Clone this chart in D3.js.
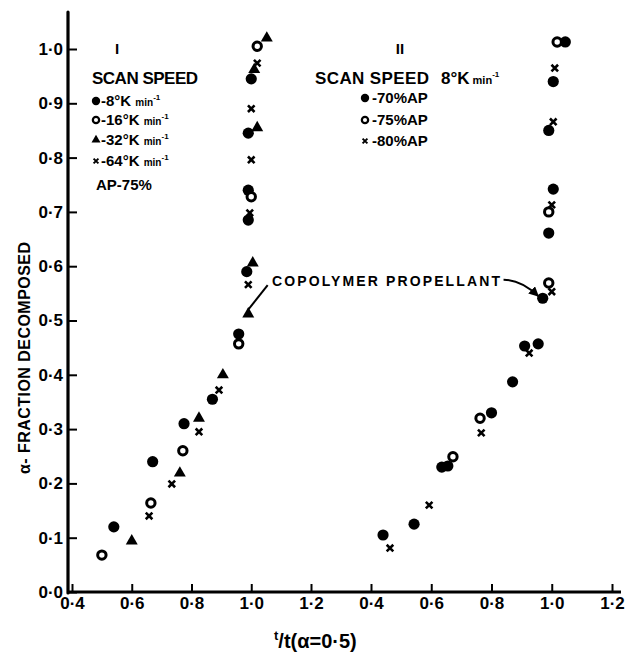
<!DOCTYPE html>
<html>
<head>
<meta charset="utf-8">
<script src="https://cdn.jsdelivr.net/npm/d3@7"></script>
<style>
  body { margin: 0; background: #fff; }
  text { font-family: "Liberation Sans", Arial, sans-serif; font-weight: bold; fill: #000; }
</style>
</head>
<body>
<svg id="chart" width="630" height="660"></svg>
<script>
// ---- data: [t/t(alpha=0.5), alpha] ----
// panel I : AP 75%, different scan speeds
const scan8K  = [[0.54,0.12],[0.67,0.24],[0.775,0.31],[0.87,0.355],[0.958,0.475],[0.985,0.59],[0.99,0.74],[0.99,0.685],[0.99,0.845],[1.0,0.945]];
const scan16K = [[0.50,0.068],[0.664,0.164],[0.771,0.26],[0.958,0.457],[1.0,0.728],[1.02,1.005]];
const scan32K = [[0.60,0.094],[0.761,0.219],[0.825,0.32],[0.905,0.40],[0.99,0.512],[1.005,0.606],[1.02,0.855],[1.01,0.962],[1.052,1.02]];
const scan64K = [[0.658,0.14],[0.734,0.199],[0.825,0.295],[0.892,0.372],[0.99,0.566],[0.995,0.698],[1.0,0.796],[1.0,0.89],[1.02,0.974]];
// panel II : 8 K/min, different AP content
const ap70 = [[0.44,0.105],[0.543,0.125],[0.635,0.23],[0.655,0.232],[0.80,0.33],[0.87,0.387],[0.91,0.453],[0.955,0.457],[0.97,0.541],[0.99,0.661],[1.005,0.742],[0.99,0.85],[1.005,0.94],[1.045,1.013]];
const ap75 = [[0.672,0.249],[0.762,0.32],[0.99,0.569],[0.99,0.70],[1.018,1.013]];
const ap80 = [[0.463,0.081],[0.593,0.16],[0.766,0.293],[0.925,0.44],[1.0,0.553],[1.0,0.713],[1.005,0.866],[1.01,0.965]];

const xTicks = [0.4, 0.6, 0.8, 1.0, 1.2];
const yTicks = [0.0, 0.1, 0.2, 0.3, 0.4, 0.5, 0.6, 0.7, 0.8, 0.9, 1.0];
const leftSpeeds = ["-8°K ", "-16°K ", "-32°K ", "-64°K "];
const rightAP = ["-70%AP", "-75%AP", "-80%AP"];

const svg = d3.select("#chart");
const y = d3.scaleLinear().domain([0, 1]).range([592, 49]);
const xL = d3.scaleLinear().domain([0.4, 1.2]).range([72, 311]);
const xR = d3.scaleLinear().domain([0.4, 1.2]).range([371, 612]);
const fmt = d => d3.format(".1f")(d).replace(".", "·");

// axes lines
svg.append("line").attr("x1", 68).attr("x2", 68).attr("y1", 12).attr("y2", 593)
  .attr("stroke", "#000").attr("stroke-width", 3.2).attr("stroke-linecap", "round");
svg.append("line").attr("x1", 67).attr("x2", 621).attr("y1", 592).attr("y2", 592)
  .attr("stroke", "#000").attr("stroke-width", 2.8);

function styleAxis(g) {
  g.select(".domain").remove();
  g.selectAll(".tick line").attr("stroke", "#000").attr("stroke-width", 2);
  g.selectAll(".tick text").attr("font-size", 17).attr("font-family", "Liberation Sans, Arial, sans-serif")
    .attr("font-weight", "bold").attr("fill", "#000");
}

svg.append("g").attr("transform", "translate(68,0)")
  .call(d3.axisLeft(y).tickValues(yTicks).tickSize(-9).tickPadding(5).tickFormat(fmt))
  .call(styleAxis);

svg.append("g").attr("transform", "translate(0,592)")
  .call(d3.axisBottom(xL).tickValues(xTicks).tickSize(-8).tickPadding(5).tickFormat(fmt))
  .call(styleAxis);
svg.append("g").attr("transform", "translate(0,592)")
  .call(d3.axisBottom(xR).tickValues(xTicks).tickSize(-8).tickPadding(5).tickFormat(fmt))
  .call(styleAxis);

// markers
function marker(g, type, cx, cy, s) {
  s = s || 1;
  if (type === "filled") {
    g.append("circle").attr("cx", cx).attr("cy", cy).attr("r", 5.6 * s).attr("fill", "#000");
  } else if (type === "open") {
    g.append("circle").attr("cx", cx).attr("cy", cy).attr("r", 4.2 * s)
      .attr("fill", "#fff").attr("stroke", "#000").attr("stroke-width", 3 * s);
  } else if (type === "tri") {
    g.append("path").attr("d", d3.symbol(d3.symbolTriangle, 62 * s * s)())
      .attr("transform", `translate(${cx},${cy})`).attr("fill", "#000");
  } else {
    g.append("path").attr("d", d3.symbol(d3.symbolX, 30 * s * s)())
      .attr("transform", `translate(${cx},${cy})`).attr("fill", "none")
      .attr("stroke", "#000").attr("stroke-width", 2.6 * s);
  }
}

const pts = svg.append("g");
[[scan8K, "filled"], [scan16K, "open"], [scan32K, "tri"], [scan64K, "x"]].forEach(([arr, t]) =>
  arr.forEach(d => marker(pts, t, xL(d[0]), y(d[1]))));
[[ap70, "filled"], [ap75, "open"], [ap80, "x"]].forEach(([arr, t]) =>
  arr.forEach(d => marker(pts, t, xR(d[0]), y(d[1]))));

// axis titles
svg.append("text").attr("transform", "translate(30,358) rotate(-90)")
  .attr("text-anchor", "middle").attr("font-size", 16).attr("textLength", 232)
  .text("α- FRACTION DECOMPOSED");
const xt = svg.append("text").attr("x", 274).attr("y", 648).attr("font-size", 20);
xt.append("tspan").attr("font-size", 13).attr("dy", -8).text("t");
xt.append("tspan").attr("dy", 8).text("/t(α=0·5)");

// panel I legend
svg.append("text").attr("x", 117).attr("y", 54).attr("text-anchor", "middle").attr("font-size", 15).text("I");
svg.append("text").attr("x", 92).attr("y", 84).attr("font-size", 17).attr("textLength", 106).text("SCAN SPEED");
const rowY = [101, 120, 140, 161];
["filled", "open", "tri", "x"].forEach((t, i) => {
  marker(svg, t, 96, rowY[i], 0.75);
  const tx = svg.append("text").attr("x", 101).attr("y", rowY[i] + 5).attr("font-size", 15);
  tx.append("tspan").text(leftSpeeds[i]);
  tx.append("tspan").attr("font-size", 10).text("min");
  tx.append("tspan").attr("font-size", 8).attr("dy", -6).text("-1");
});
svg.append("text").attr("x", 96).attr("y", 190).attr("font-size", 15).text("AP-75%");

// panel II legend
svg.append("text").attr("x", 400).attr("y", 54).attr("text-anchor", "middle").attr("font-size", 15).text("II");
svg.append("text").attr("x", 315).attr("y", 84).attr("font-size", 17).attr("textLength", 114).text("SCAN SPEED");
const st = svg.append("text").attr("x", 441).attr("y", 84).attr("font-size", 17);
st.append("tspan").text("8°K");
st.append("tspan").attr("font-size", 11).text(" min");
st.append("tspan").attr("font-size", 8).attr("dy", -7).text("-1");
const rowY2 = [98, 120, 141];
["filled", "open", "x"].forEach((t, i) => {
  marker(svg, t, 365, rowY2[i], 0.75);
  svg.append("text").attr("x", 372).attr("y", rowY2[i] + 5).attr("font-size", 15).text(rightAP[i]);
});

// annotation
svg.append("text").attr("x", 272).attr("y", 286).attr("font-size", 14).attr("textLength", 228)
  .text("COPOLYMER PROPELLANT");
svg.append("line").attr("x1", xL(1.055)).attr("y1", y(0.565)).attr("x2", xL(0.99)).attr("y2", y(0.52))
  .attr("stroke", "#000").attr("stroke-width", 2);
svg.append("defs").append("marker").attr("id", "arr").attr("viewBox", "0 0 10 10")
  .attr("refX", 9).attr("refY", 5).attr("markerWidth", 5).attr("markerHeight", 5).attr("orient", "auto")
  .append("path").attr("d", "M0,0L10,5L0,10z").attr("fill", "#000");
const a0 = [xR(0.84), y(0.575)], a1 = [xR(0.955), y(0.545)];
svg.append("path")
  .attr("d", `M${a0[0]},${a0[1]}Q${(a0[0] + a1[0]) / 2},${a0[1]} ${a1[0]},${a1[1]}`)
  .attr("fill", "none").attr("stroke", "#000").attr("stroke-width", 2).attr("marker-end", "url(#arr)");
</script>
</body>
</html>
